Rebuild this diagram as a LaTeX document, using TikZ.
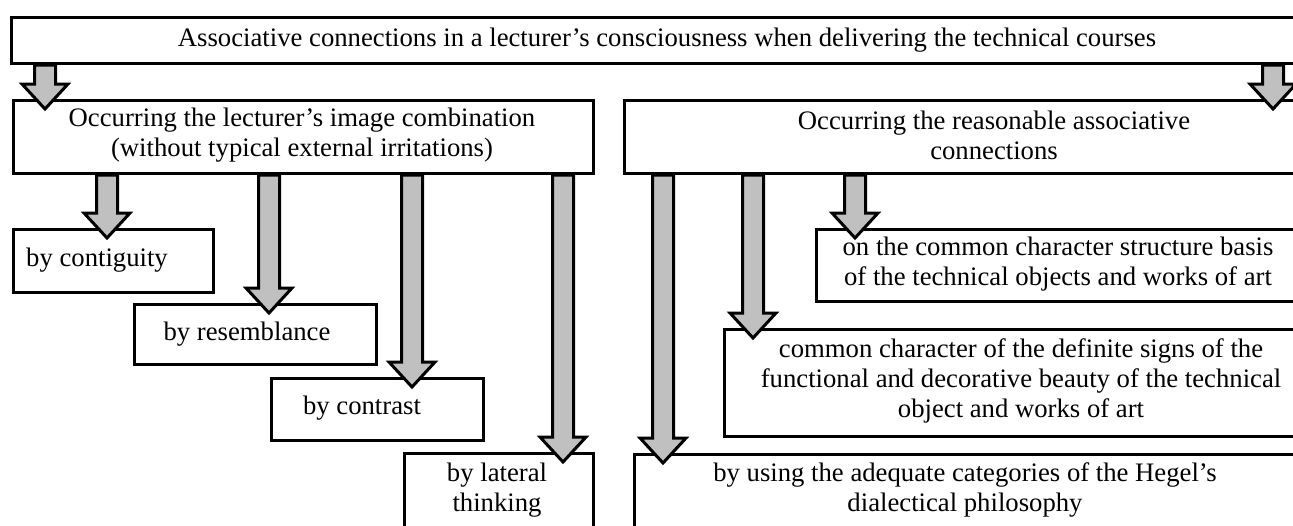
\documentclass[tikz,border=0pt]{standalone}
\usepackage{fontspec}
\setmainfont{Liberation Serif}
\usetikzlibrary{calc}
\definecolor{arrowgray}{RGB}{192,192,192}

% block arrow from the bottom of node #1 into the top of node #2, at pixel column #3
\newcommand{\fatarrow}[3]{%
  \pgfmathsetmacro\ax{#3*0.5}
  \draw[fatarr] let \p1=(#1.south), \p2=(#2.north) in
    (\ax pt-5.25pt,\y1) -- (\ax pt-5.25pt,\y2+7.5pt) -- (\ax pt-11.5pt,\y2+7.5pt)
    -- (\ax pt,\y2-5pt) -- (\ax pt+11.5pt,\y2+7.5pt) -- (\ax pt+5.25pt,\y2+7.5pt)
    -- (\ax pt+5.25pt,\y1) -- cycle;}

\begin{document}
\begin{tikzpicture}[x=0.5pt, y=-0.5pt,
    box/.style={draw, line width=1.5pt, fill=white, anchor=north west, inner sep=0pt},
    lbl/.style={align=center, inner sep=0pt, font=\fontsize{13.35}{15}\selectfont},
    fatarr/.style={draw=black, fill=arrowgray, line width=1.5pt, line join=miter}]
        \useasboundingbox (0,0) rectangle (1293,525);
        \clip (0,0) rectangle (1293,525);

        % top box
        \node[box, minimum width=650pt, minimum height=23pt] (top) at (10,16) {};
        \node[lbl] (top-t) at (667,40) {Associative connections in a lecturer's consciousness when delivering the technical courses};

        % second level
        \node[box, minimum width=290pt, minimum height=36.5pt] (lft) at (12,99) {};
        \node[lbl] (lft-t) at (302,135) {Occurring the lecturer's image combination\\(without typical external irritations)};
        \node[box, minimum width=350pt, minimum height=36.5pt] (rgt) at (623,99) {};
        \node[lbl] (rgt-t) at (994,135) {Occurring the reasonable associative\\connections};

        % left branch
        \node[box, minimum width=100pt, minimum height=31.5pt] (cont) at (12,228) {};
        \node[lbl] (cont-t) at (97,260) {by contiguity};
        \node[box, minimum width=121pt, minimum height=30pt] (resem) at (133,303) {};
        \node[lbl] (resem-t) at (247,334) {by resemblance};
        \node[box, minimum width=106pt, minimum height=31pt] (contr) at (270,377) {};
        \node[lbl] (contr-t) at (362,408) {by contrast};
        \node[box, minimum width=94.5pt, minimum height=50pt] (later) at (403,452) {};
        \node[lbl] (later-t) at (497,490) {by lateral\\thinking};

        % right branch
        \node[box, minimum width=250pt, minimum height=36pt] (basis) at (815,228) {};
        \node[lbl] (basis-t) at (1058,264) {on the common character structure basis\\of the technical objects and works of art};
        \node[box, minimum width=300pt, minimum height=53.5pt] (beauty) at (723,328) {};
        \node[lbl] (beauty-t) at (1021,381) {common character of the definite signs of the\\functional and decorative beauty of the technical\\object and works of art};
        \node[box, minimum width=350pt, minimum height=50pt] (hegel) at (633,453) {};
        \node[lbl] (hegel-t) at (965,490) {by using the adequate categories of the Hegel's\\dialectical philosophy};

        % arrows
        \fatarrow{top}{lft}{45}
        \fatarrow{top}{rgt}{1273}
        \fatarrow{lft}{cont}{107}
        \fatarrow{lft}{resem}{269}
        \fatarrow{lft}{contr}{412}
        \fatarrow{lft}{later}{563}
        \fatarrow{rgt}{hegel}{663}
        \fatarrow{rgt}{beauty}{753}
        \fatarrow{rgt}{basis}{855}
    \end{tikzpicture}
\end{document}
